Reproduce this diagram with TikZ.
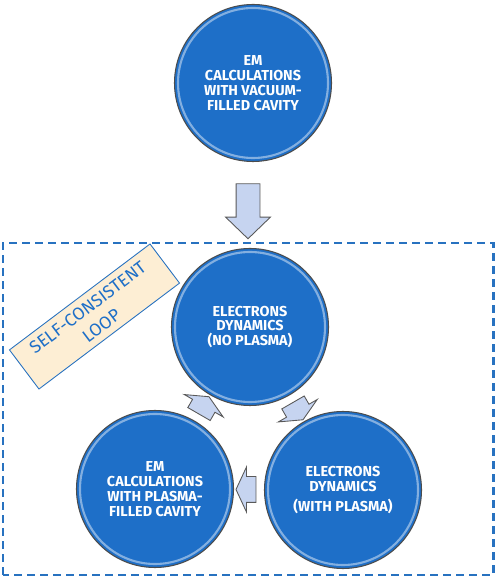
\documentclass[tikz,border=0pt]{standalone}
\usepackage{fontspec}
\setmainfont{Fira Sans}
\usetikzlibrary{shapes.arrows,calc}
\definecolor{circblue}{RGB}{30,111,200}
\definecolor{boxblue}{RGB}{40,114,192}
\definecolor{notefill}{RGB}{253,238,212}
\definecolor{arrowfill}{RGB}{198,212,240}
\begin{document}
\begin{tikzpicture}[
  stage/.style={circle,minimum size=3.14cm,inner sep=0pt,fill=circblue,draw=black!70,line width=0.6pt,text=white,align=center,font=\bfseries\fontsize{8.2}{8.4}\selectfont},
  gloss/.style={white,opacity=0.45,line width=1.2pt},
  flow/.style={single arrow,draw=black!65,fill=arrowfill,line width=0.5pt,inner xsep=0pt,inner ysep=0.25cm,minimum height=0.4cm,single arrow head extend=0.19cm,single arrow tip angle=130},
  note/.style={draw=boxblue,fill=notefill,text=circblue,line width=0.5pt,minimum width=3.52cm,minimum height=0.98cm,inner sep=0pt,align=center,font=\fontsize{10}{13}\selectfont}
]
\useasboundingbox (0,0) rectangle (9.96,11.58);
% ループの枠
\draw[boxblue,line width=1.7pt,dash pattern=on 0.16cm off 0.1cm] (0.06,0.08) rectangle (9.86,6.72);
% 円
\node[stage] (vac) at (5.06,9.92) {EM\\CALCULATIONS\\WITH VACUUM-\\FILLED CAVITY};
\node[stage] (nop) at (5.00,5.04) {ELECTRONS\\DYNAMICS\\(NO PLASMA)};
\node[stage] (wp) at (6.86,1.78) {ELECTRONS\\DYNAMICS\\[3pt](WITH PLASMA)};
\node[stage] (pf) at (3.10,1.80) {EM\\CALCULATIONS\\WITH PLASMA-\\FILLED CAVITY};
\foreach \n in {vac,nop,wp,pf}
  \draw[gloss] (\n.center) circle (1.5);
% 矢印
\node[flow,inner ysep=0.23cm,minimum height=1.1cm,single arrow head extend=0.21cm,single arrow tip angle=92,rotate=-90] (down) at (4.96,7.47) {};
\node[flow,rotate=-60] (a1) at ($(nop)!0.5!(wp)$) {};
\node[flow,rotate=180] (a2) at ($(wp)!0.5!(pf)$) {};
\node[flow,rotate=60] (a3) at ($(pf)!0.5!(nop)$) {};
% ラベル
\node[note,rotate=37] (loop) at (1.89,5.25) {SELF-CONSISTENT\\LOOP};
\end{tikzpicture}
\end{document}
